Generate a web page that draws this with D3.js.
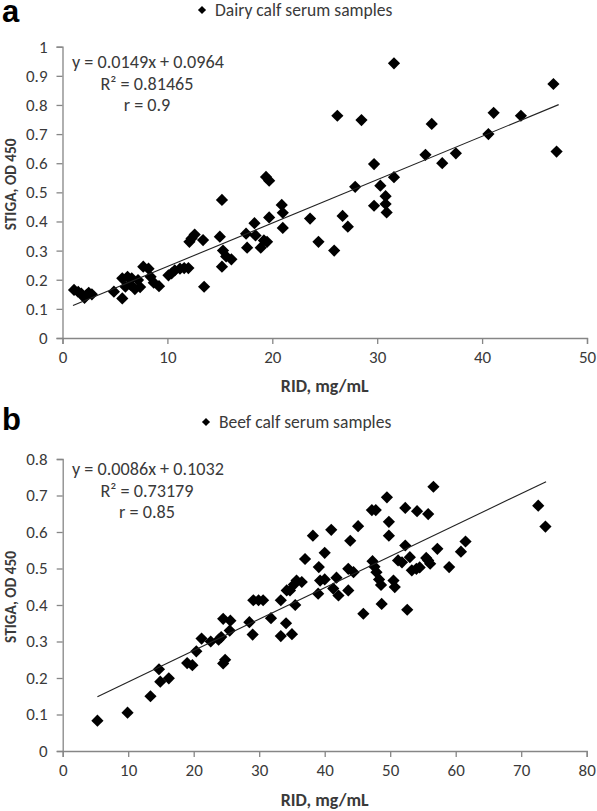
<!DOCTYPE html>
<html>
<head>
<meta charset="utf-8">
<script src="https://cdn.jsdelivr.net/npm/d3@7"></script>
<style>
  html, body { margin: 0; padding: 0; background: #fff; }
  svg { display: block; }
  text { font-family: Carlito, Calibri, Lato, "Open Sans", sans-serif; }
</style>
</head>
<body>
<svg id="chart" width="597" height="811"></svg>
<script>
// ---- Panel a: Dairy calf serum samples ----
const dairyRID = [1.1,1.5,1.8,2.1,2.3,2.5,2.8,4.9,5.7,5.7,6.0,6.2,6.5,6.6,6.9,7.2,7.4,7.7,8.2,8.4,8.7,9.2,10.1,10.4,10.7,11.2,11.6,12.0,12.1,12.3,12.6,13.4,13.5,15.0,15.2,15.3,15.2,15.6,16.1,17.5,17.6,18.3,18.4,18.9,19.2,19.5,19.4,19.7,19.7,20.9,21.0,21.0,23.6,24.4,25.9,26.2,26.7,27.2,27.9,28.5,29.7,29.7,30.3,30.8,30.8,30.9,31.6,31.6,34.6,35.2,36.2,37.5,40.6,41.1,43.7,46.8,47.1];
const dairySTIGA = [0.165,0.158,0.152,0.138,0.148,0.155,0.150,0.159,0.136,0.205,0.176,0.210,0.182,0.205,0.168,0.199,0.175,0.245,0.238,0.210,0.190,0.178,0.215,0.222,0.232,0.238,0.240,0.240,0.330,0.342,0.355,0.336,0.176,0.348,0.474,0.300,0.245,0.280,0.270,0.358,0.310,0.394,0.352,0.310,0.335,0.330,0.553,0.540,0.414,0.457,0.430,0.378,0.410,0.330,0.300,0.763,0.419,0.382,0.519,0.748,0.597,0.454,0.523,0.487,0.460,0.431,0.943,0.552,0.629,0.735,0.600,0.634,0.700,0.773,0.763,0.872,0.640];
const dairyFit = { slope: 0.0149, intercept: 0.0964, xMin: 1.0, xMax: 47.3 };
const dairyLabels = ["y = 0.0149x + 0.0964", "R² = 0.81465", "r = 0.9"];
const dairyXTicks = [0,10,20,30,40,50];
const dairyYTicks = [0,0.1,0.2,0.3,0.4,0.5,0.6,0.7,0.8,0.9,1];

// ---- Panel b: Beef calf serum samples ----
const beefRID = [5.3,9.9,13.4,14.7,14.9,16.2,19.0,19.8,20.4,21.2,22.6,23.8,24.2,24.5,24.5,24.8,25.5,25.6,28.5,29.0,29.1,29.9,30.6,31.8,33.3,33.3,34.1,35.0,35.5,34.2,34.7,35.3,35.7,36.5,37.0,38.2,39.0,39.1,39.3,40.0,40.0,41.0,41.3,41.8,42.1,43.6,43.6,43.9,44.4,45.1,45.9,47.2,47.8,47.3,47.6,47.9,48.3,48.6,48.7,49.5,49.8,49.8,50.5,50.7,51.2,51.8,52.3,52.3,52.6,53.0,53.3,54.0,54.1,54.5,55.5,55.8,55.8,56.1,56.6,57.2,59.0,60.8,61.5,72.6,73.7];
const beefSTIGA = [0.083,0.105,0.150,0.224,0.190,0.199,0.241,0.235,0.273,0.308,0.300,0.305,0.312,0.362,0.240,0.250,0.330,0.357,0.353,0.319,0.413,0.413,0.413,0.364,0.413,0.315,0.350,0.320,0.400,0.440,0.440,0.456,0.467,0.463,0.526,0.590,0.431,0.504,0.467,0.470,0.543,0.606,0.445,0.475,0.426,0.440,0.499,0.576,0.490,0.616,0.376,0.660,0.660,0.520,0.505,0.490,0.470,0.455,0.403,0.695,0.628,0.590,0.467,0.449,0.522,0.517,0.666,0.563,0.387,0.531,0.495,0.499,0.657,0.503,0.529,0.649,0.522,0.513,0.724,0.554,0.504,0.546,0.574,0.672,0.615];
const beefFit = { slope: 0.0086, intercept: 0.1032, xMin: 5.3, xMax: 73.8 };
const beefLabels = ["y = 0.0086x + 0.1032", "R² = 0.73179", "r = 0.85"];
const beefXTicks = [0,10,20,30,40,50,60,70,80];
const beefYTicks = [0,0.1,0.2,0.3,0.4,0.5,0.6,0.7,0.8];

const svg = d3.select("#chart");
const axisColor = "#868686";
const textColor = "#3a3a3a";
const diamond = d3.symbol().type(d3.symbolDiamond2);

// font size that makes `str` measure `target` px wide
function fitSize(str, target, weight) {
  const t = svg.append("text").style("font-size", "20px").style("font-weight", weight || "normal").text(str);
  const w = t.node().getComputedTextLength();
  t.remove();
  return 20 * target / w;
}
const tickFont = fitSize("0.9", 21.5);
const eqFont = fitSize("y = 0.0149x + 0.0964", 152);
const titleFont = fitSize("RID, mg/mL", 88, "bold");
const yTitleFont = fitSize("STIGA, OD 450", 92, "bold");
const legendFont = fitSize("Dairy calf se", 86);

function drawPanel(cfg) {
  const x = d3.scaleLinear().domain(cfg.xDomain).range([cfg.left, cfg.right]);
  const y = d3.scaleLinear().domain(cfg.yDomain).range([cfg.bottom, cfg.top]);
  const g = svg.append("g");

  // panel letter
  g.append("text").attr("x", 2).attr("y", cfg.letterY)
    .style("font-family", "Arial, 'Liberation Sans', sans-serif")
    .style("font-weight", "bold").style("font-size", "31px").attr("fill", "#000")
    .text(cfg.letter);

  // legend
  g.append("path").attr("d", diamond.size(42)())
    .attr("transform", `translate(${cfg.legendX},${cfg.legendY - 6})`).attr("fill", "#000");
  g.append("text").attr("x", cfg.legendX + 13).attr("y", cfg.legendY)
    .style("font-size", legendFont + "px").attr("fill", textColor).text(cfg.legendText);

  // axes
  const xAxis = d3.axisBottom(x).tickValues(cfg.xTicks).tickSize(6).tickPadding(5).tickFormat(d3.format("d"));
  const yAxis = d3.axisLeft(y).tickValues(cfg.yTicks).tickSize(6).tickPadding(9).tickFormat(d => d3.format("")(d));
  const gx = g.append("g").attr("transform", `translate(0,${cfg.bottom})`).call(xAxis);
  const gy = g.append("g").attr("transform", `translate(${cfg.left},0)`).call(yAxis);
  [gx, gy].forEach(a => {
    a.select(".domain").attr("stroke", axisColor).attr("stroke-width", 1.3);
    a.selectAll(".tick line").attr("stroke", axisColor).attr("stroke-width", 1.3);
    a.selectAll(".tick text").attr("fill", textColor)
      .style("font-family", "Carlito, Calibri, Lato, sans-serif").style("font-size", tickFont + "px");
  });
  gx.selectAll(".tick text").attr("dy", "0.8em");

  // axis titles
  g.append("text").attr("x", (cfg.left + cfg.right) / 2).attr("y", cfg.xTitleY)
    .attr("text-anchor", "middle").style("font-weight", "bold").style("font-size", titleFont + "px")
    .attr("fill", textColor).text("RID, mg/mL");
  g.append("text")
    .attr("transform", `translate(16,${(cfg.top + cfg.bottom) / 2 - 8}) rotate(-90)`)
    .attr("text-anchor", "middle").style("font-weight", "bold").style("font-size", yTitleFont + "px")
    .attr("fill", textColor).text("STIGA, OD 450");

  // points
  const pts = cfg.xs.map((v, i) => [v, cfg.ys[i]]);
  g.append("g").selectAll("path").data(pts).join("path")
    .attr("d", diamond.size(cfg.markerSize)())
    .attr("transform", d => `translate(${x(d[0])},${y(d[1])})`)
    .attr("fill", "#000");

  // regression line
  const f = cfg.fit;
  g.append("line")
    .attr("x1", x(f.xMin)).attr("y1", y(f.slope * f.xMin + f.intercept))
    .attr("x2", x(f.xMax)).attr("y2", y(f.slope * f.xMax + f.intercept))
    .attr("stroke", "#222").attr("stroke-width", 1.1);

  // equation labels
  g.append("text").attr("x", 72).attr("y", cfg.eqY).style("font-size", eqFont + "px")
    .attr("fill", textColor).text(cfg.labels[0]);
  g.append("text").attr("x", 147).attr("y", cfg.eqY + 21.5).attr("text-anchor", "middle")
    .style("font-size", eqFont + "px").attr("fill", textColor).text(cfg.labels[1]);
  g.append("text").attr("x", 147).attr("y", cfg.eqY + 43).attr("text-anchor", "middle")
    .style("font-size", eqFont + "px").attr("fill", textColor).text(cfg.labels[2]);
}

drawPanel({
  letter: "a", letterY: 22, legendText: "Dairy calf serum samples", legendX: 202, legendY: 16,
  xDomain: [0, 50], yDomain: [0, 1], left: 62.5, right: 587, top: 46.7, bottom: 338,
  xTicks: dairyXTicks, yTicks: dairyYTicks, xTitleY: 392,
  xs: dairyRID, ys: dairySTIGA, fit: dairyFit, labels: dairyLabels, eqY: 68, markerSize: 95
});

drawPanel({
  letter: "b", letterY: 430, legendText: "Beef calf serum samples", legendX: 206, legendY: 428,
  xDomain: [0, 80], yDomain: [0, 0.8], left: 62.7, right: 586.7, top: 459, bottom: 751,
  xTicks: beefXTicks, yTicks: beefYTicks, xTitleY: 806,
  xs: beefRID, ys: beefSTIGA, fit: beefFit, labels: beefLabels, eqY: 475, markerSize: 95
});
</script>
</body>
</html>
